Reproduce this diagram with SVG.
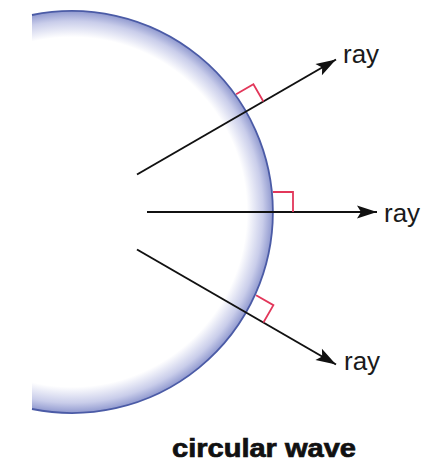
<svg xmlns="http://www.w3.org/2000/svg" width="441" height="462" viewBox="0 0 441 462">
<defs>
<radialGradient id="band" gradientUnits="userSpaceOnUse" cx="72" cy="212" r="201">
<stop offset="0" stop-color="#ffffff"/>
<stop offset="0.87" stop-color="#ffffff"/>
<stop offset="0.95" stop-color="#c9cdea"/>
<stop offset="1" stop-color="#9099cf"/>
</radialGradient>
<marker id="arrow" markerUnits="userSpaceOnUse" markerWidth="22" markerHeight="14" refX="20" refY="6.5" orient="auto" overflow="visible">
<path d="M0,0 L20,6.5 L0,13 L4,6.5 z" fill="#111"/>
</marker>
<style>
.ray{stroke:#111;stroke-width:2;fill:none;marker-end:url(#arrow)}
.right{stroke:#e2375a;stroke-width:1.8;fill:none}
.lbl{font-family:"Liberation Sans",Arial,sans-serif;font-size:26px;fill:#1a1a1a}
.title{font-family:"Liberation Sans",Arial,sans-serif;font-size:25px;font-weight:bold;fill:#111;stroke:#111;stroke-width:0.7}
</style>
</defs>
<g id="wave">
<path d="M32 15 A201 201 0 1 1 32 409 Z" fill="url(#band)" stroke="none"/>
<path d="M32 15 A201 201 0 1 1 32 409" fill="none" stroke="#4b5ba6" stroke-width="1.8"/>
</g>
<g id="connectors">
<line class="ray" x1="137" y1="174.5" x2="336" y2="59.5"/>
<line class="ray" x1="147" y1="212" x2="377" y2="212"/>
<line class="ray" x1="137" y1="249.5" x2="336" y2="364.5"/>
</g>
<g id="right-angles">
<polyline class="right" points="236.1,94.2 253.4,84.2 263.4,101.5"/>
<polyline class="right" points="273,192 293,192 293,212"/>
<polyline class="right" points="256.1,295.2 273.4,305.2 263.4,322.5"/>
</g>
<g id="labels">
<text class="lbl" x="343" y="63">ray</text>
<text class="lbl" x="384" y="222">ray</text>
<text class="lbl" x="344" y="370">ray</text>
<text class="title" x="172" y="457" textLength="184" lengthAdjust="spacingAndGlyphs">circular wave</text>
</g>
</svg>
